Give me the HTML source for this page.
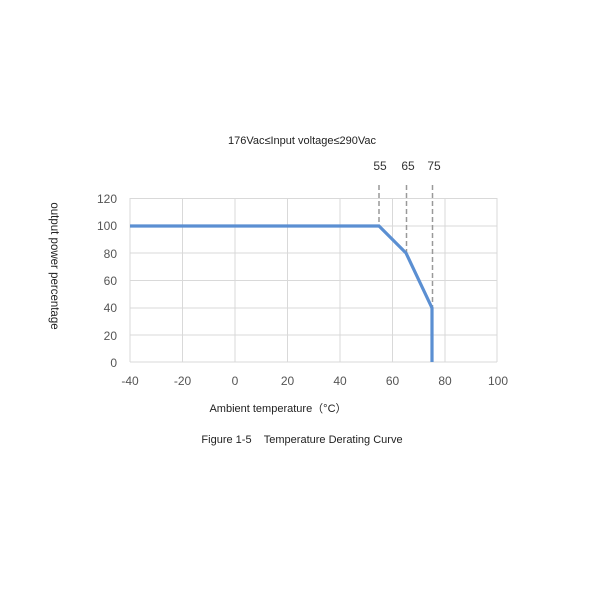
<!DOCTYPE html>
<html><head><meta charset="utf-8"><style>
html,body{margin:0;padding:0;background:#fff;}
svg{display:block;}
text{font-family:"Liberation Sans",sans-serif;}
</style></head><body>
<svg width="600" height="600" viewBox="0 0 600 600" xmlns="http://www.w3.org/2000/svg">
<rect width="600" height="600" fill="#fff"/>
<text x="302" y="144" font-size="11" text-anchor="middle" fill="#222">176Vac≤Input voltage≤290Vac</text>
<g stroke="#d9d9d9" stroke-width="1">
<line x1="130" y1="198.5" x2="497" y2="198.5"/>
<line x1="130" y1="226" x2="497" y2="226"/>
<line x1="130" y1="253" x2="497" y2="253"/>
<line x1="130" y1="280.5" x2="497" y2="280.5"/>
<line x1="130" y1="308" x2="497" y2="308"/>
<line x1="130" y1="335" x2="497" y2="335"/>
<line x1="130" y1="362" x2="497" y2="362"/>
<line x1="130" y1="198" x2="130" y2="362"/>
<line x1="182.5" y1="198" x2="182.5" y2="362"/>
<line x1="235" y1="198" x2="235" y2="362"/>
<line x1="287.5" y1="198" x2="287.5" y2="362"/>
<line x1="340" y1="198" x2="340" y2="362"/>
<line x1="392.5" y1="198" x2="392.5" y2="362"/>
<line x1="445" y1="198" x2="445" y2="362"/>
<line x1="497" y1="198" x2="497" y2="362"/>
</g>
<g stroke="#999" stroke-width="1.5" stroke-dasharray="5,3">
<line x1="379" y1="185" x2="379" y2="226"/>
<line x1="406.5" y1="185" x2="406.5" y2="253"/>
<line x1="432.5" y1="185" x2="432.5" y2="308"/>
</g>
<g font-size="12" fill="#333" text-anchor="middle">
<text x="380" y="170">55</text>
<text x="408" y="170">65</text>
<text x="434" y="170">75</text>
</g>
<polyline points="130,226 379,226 406,253 432,308 432,362" fill="none" stroke="#5b8fd2" stroke-width="3.2" stroke-linejoin="miter"/>
<g font-size="12" fill="#555" text-anchor="end">
<text x="117" y="203">120</text>
<text x="117" y="230">100</text>
<text x="117" y="258">80</text>
<text x="117" y="285">60</text>
<text x="117" y="312">40</text>
<text x="117" y="340">20</text>
<text x="117" y="367">0</text>
</g>
<g font-size="12" fill="#555" text-anchor="middle">
<text x="130" y="385">-40</text>
<text x="182.5" y="385">-20</text>
<text x="235" y="385">0</text>
<text x="287.5" y="385">20</text>
<text x="340" y="385">40</text>
<text x="392.5" y="385">60</text>
<text x="445" y="385">80</text>
<text x="498" y="385">100</text>
</g>
<text transform="translate(51,266) rotate(90)" font-size="11.5" text-anchor="middle" fill="#222">output power percentage</text>
<text x="278" y="412" font-size="11" text-anchor="middle" fill="#222">Ambient temperature（°C）</text>
<text x="302" y="443" font-size="11" text-anchor="middle" fill="#222">Figure 1-5&#160;&#160;&#160;&#160;Temperature Derating Curve</text>
</svg>
</body></html>
